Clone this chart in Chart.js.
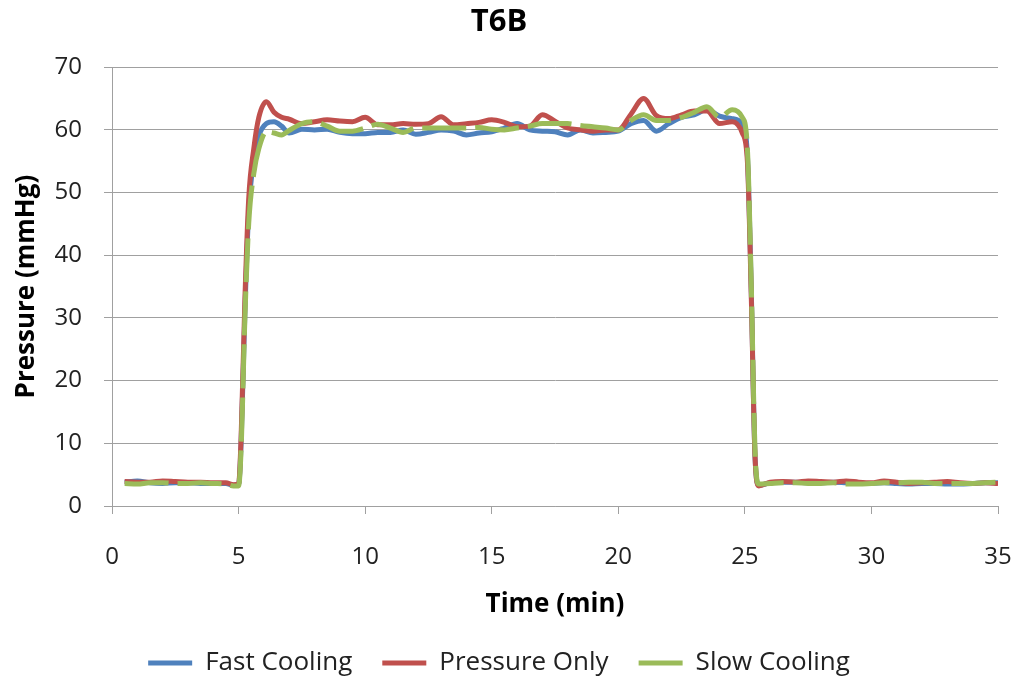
<!DOCTYPE html>
<html>
<head>
<meta charset="utf-8">
<title>T6B</title>
<script src="https://cdn.jsdelivr.net/npm/chart.js"></script>
<style>
    body{margin:0;background:#ffffff;}
    #wrapper{width:1018px;height:680px;}
</style>
</head>
<body>
<div id="wrapper"><canvas id="myChart"></canvas></div>
<script>
// tempo in minuti (asse x)
let tempi=[0.5,1,1.5,2,2.5,3,3.5,4,4.5,4.8,
    5,5.1,5.25,5.4,5.6,5.8,6.1,6.4,6.7,
    7,7.5,8,8.5,9,9.5,10,10.5,11,11.5,12,12.5,13,13.5,14,14.5,15,15.5,16,16.5,
    17,17.5,18,18.5,19,19.5,20,20.5,21,21.5,22,22.5,23,23.5,24,24.5,
    24.9,25.1,25.25,25.4,25.55,
    26,26.5,27,27.5,28,28.5,29,29.5,30,30.5,31,31.5,32,32.5,33,33.5,34,34.5,35];

let fastCooling=[3.8,4.0,3.7,3.6,3.7,3.7,3.6,3.6,3.6,3.3,
    3.4,10,31,47,55,59,61.0,61.3,60.6,
    59.5,60.1,60.0,60.1,59.6,59.4,59.4,59.6,59.6,60.0,59.3,59.6,60.0,59.8,59.2,59.5,59.7,60.3,61.0,60.0,
    59.8,59.7,59.2,60.0,59.5,59.6,59.8,61.0,61.5,59.8,61.0,62.0,62.4,63.2,62.2,61.8,
    61.0,56,35,8,3.3,
    3.7,3.8,3.8,3.7,3.7,3.8,3.7,3.6,3.6,3.7,3.6,3.5,3.6,3.6,3.5,3.5,3.6,3.7,3.7];

let pressureOnly=[3.9,3.8,3.8,4.0,3.9,3.8,3.8,3.7,3.7,3.4,
    3.5,11,33,49,57,62,64.5,62.8,62.0,
    61.7,61.0,61.3,61.6,61.4,61.3,62.0,60.8,60.8,61.0,60.9,61.0,62.1,60.8,61.0,61.2,61.6,61.2,60.5,60.6,
    62.4,61.4,60.3,60.0,59.8,60.0,60.0,62.5,65.0,62.3,61.8,62.4,63.0,63.0,61.0,61.3,
    59.5,55,34,8,3.2,
    3.8,3.9,3.8,4.0,3.9,3.8,4.0,3.8,3.7,4.0,3.8,3.6,3.7,3.8,3.9,3.7,3.6,3.7,3.6];

let slowCooling=[3.6,3.5,3.7,3.7,3.6,3.6,3.7,3.6,3.5,3.2,
    3.2,9,30,45,53,57,59.7,59.5,59.2,
    59.9,61.0,61.3,60.6,59.8,59.8,60.3,60.9,60.3,59.6,60.3,60.3,60.3,60.3,60.3,60.4,60.1,60.0,60.3,60.6,
    61.0,61.0,61.0,60.7,60.5,60.3,60.0,61.5,62.4,61.5,61.5,62.0,62.8,63.7,62.0,63.2,
    62.0,57,36,9,3.5,
    3.6,3.7,3.7,3.6,3.6,3.7,3.5,3.5,3.6,3.7,3.7,3.8,3.8,3.6,3.6,3.6,3.6,3.7,3.8];

let xTicks=[0,5,10,15,20,25,30,35];
let yTicks=[0,10,20,30,40,50,60,70];

let coloreGriglia="#a0a0a0";
let coloreTesto="#222222";

function punti(valori)
{
    return tempi.map(function (t, i)
    {
        return {x:t, y:valori[i]};
    });
}

function serie(nome, valori, colore, ordine, tratteggio)
{
    return {
        label:nome,
        data:punti(valori),
        borderColor:colore,
        backgroundColor:colore,
        borderWidth:5,
        borderDash:tratteggio,
        pointRadius:0,
        cubicInterpolationMode:"monotone",
        order:ordine
    };
}

window.onload=function ()
{
    Chart.defaults.font.family="'Open Sans', sans-serif";
    Chart.defaults.color=coloreTesto;

    new Chart(document.getElementById("myChart"), {
        type:"line",
        data:{
            datasets:[
                serie("Fast Cooling", fastCooling, "#4F81BD", 2, []),
                serie("Pressure Only", pressureOnly, "#C0504D", 1, []),
                serie("Slow Cooling", slowCooling, "#9BBB59", 0, [44, 9])
            ]
        },
        options:{
            responsive:true,
            maintainAspectRatio:false,
            animation:false,
            layout:{padding:{left:0, right:20, top:0, bottom:0}},
            plugins:{
                title:{
                    display:true,
                    text:"T6B",
                    color:"#000000",
                    font:{size:31, weight:"bold"},
                    padding:{top:4, bottom:26}
                },
                legend:{
                    position:"bottom",
                    maxHeight:60,
                    labels:{
                        usePointStyle:true,
                        pointStyle:"line",
                        pointStyleWidth:44,
                        padding:30,
                        font:{size:26},
                        color:coloreTesto,
                        sort:function (a, b) { return a.datasetIndex-b.datasetIndex; }
                    }
                },
                tooltip:{enabled:false}
            },
            scales:{
                x:{
                    type:"linear",
                    min:0,
                    max:35,
                    afterBuildTicks:function (s) { s.ticks=xTicks.map(function (v) { return {value:v}; }); },
                    afterFit:function (s)
                    {
                        s.height=114;
                        s.paddingLeft=0;
                        s.paddingRight=14;
                    },
                    grid:{drawOnChartArea:false, drawTicks:true, tickLength:8, color:coloreGriglia},
                    border:{color:coloreGriglia},
                    ticks:{padding:29, font:{size:24}, color:coloreTesto, maxRotation:0},
                    title:{display:true, text:"Time (min)", font:{size:26, weight:"bold"}, color:"#000000", padding:{top:0, bottom:0}}
                },
                y:{
                    min:0,
                    max:70,
                    afterBuildTicks:function (s) { s.ticks=yTicks.map(function (v) { return {value:v}; }); },
                    afterFit:function (s) { s.width=112; },
                    grid:{drawTicks:true, tickLength:8, color:coloreGriglia},
                    border:{color:coloreGriglia},
                    ticks:{padding:22, font:{size:24}, color:coloreTesto},
                    title:{display:true, text:"Pressure (mmHg)", font:{size:26, weight:"bold"}, color:"#000000", padding:{top:11, bottom:0}}
                }
            }
        }
    });
};
</script>
</body>
</html>
